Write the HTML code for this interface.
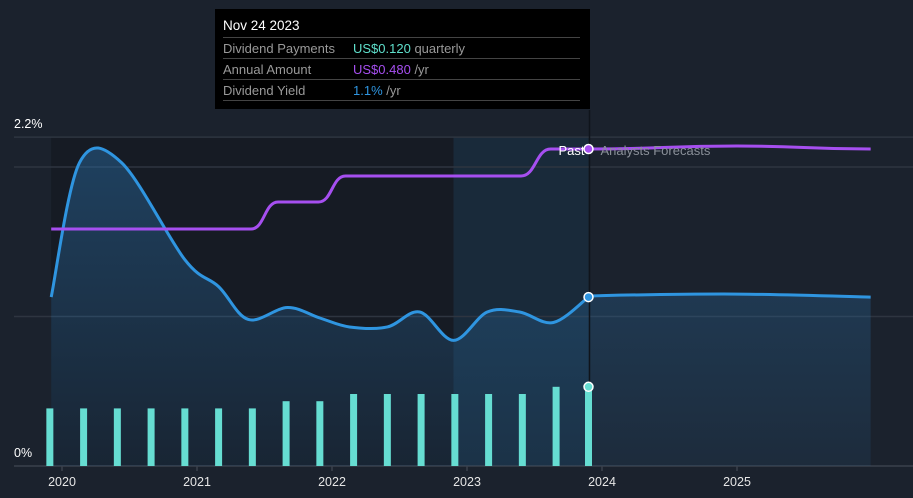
<!DOCTYPE html>
<html><head><meta charset="utf-8"><style>
body{margin:0;background:#1b222d;font-family:"Liberation Sans",sans-serif;}
#wrap{position:relative;width:913px;height:498px;overflow:hidden;background:#1b222d;}
.tip{position:absolute;left:215px;top:9px;width:375px;height:100px;background:#000;}
.tip div{position:absolute;left:8px;width:357px;font-size:13px;}
</style></head><body>
<div id="wrap">
<svg id="svg" width="913" height="498" style="position:absolute;left:0;top:0"></svg>
<div class="tip">
 <div style="top:9px;color:#fff;font-size:13.5px">Nov 24 2023</div>
 <div style="top:28px;border-top:1px solid #444;padding-top:3px;color:#999">Dividend Payments<span style="position:absolute;left:130px;color:#5fe0cc">US$0.120 <span style="color:#999">quarterly</span></span></div>
 <div style="top:49px;border-top:1px solid #444;padding-top:3px;color:#999">Annual Amount<span style="position:absolute;left:130px;color:#a64ff0">US$0.480 <span style="color:#999">/yr</span></span></div>
 <div style="top:70px;border-top:1px solid #444;padding-top:3px;color:#999;height:17px;border-bottom:1px solid #444">Dividend Yield<span style="position:absolute;left:130px;color:#2f95e0">1.1% <span style="color:#999">/yr</span></span></div>
</div>
</div>
<script>
const yearTicks=[2020,2021,2022,2023,2024,2025];
const yieldTicks=[0,2.2];
const yieldPast=[[2019.92,1.13],[2020.13,2.03],[2020.44,2.03],[2020.91,1.38],[2021.16,1.2],[2021.38,0.98],[2021.67,1.06],[2021.91,0.99],[2022.13,0.93],[2022.41,0.93],[2022.65,1.03],[2022.9,0.84],[2023.15,1.03],[2023.39,1.03],[2023.64,0.96],[2023.9,1.13]];
const yieldForecast=[[2023.9,1.13],[2024.0,1.14],[2025.0,1.15],[2025.99,1.13]];
const annualPast=[[2019.92,0.32],[2021.4,0.32],[2021.6,0.374],[2021.9,0.374],[2022.1,0.426],[2023.4,0.426],[2023.62,0.48],[2023.9,0.48]];
const annualForecast=[[2023.9,0.48],[2025.0,0.486],[2025.99,0.48]];
const payDates=[2019.91,2020.16,2020.41,2020.66,2020.91,2021.16,2021.41,2021.66,2021.91,2022.16,2022.41,2022.66,2022.91,2023.16,2023.41,2023.66,2023.9];
const payValues=[0.08,0.08,0.08,0.08,0.08,0.08,0.08,0.09,0.09,0.10,0.10,0.10,0.10,0.10,0.10,0.11,0.11];

const X=t=>62+(t-2020)*135;
const Y=v=>466-v*149.5;
const YA=v=>229-(v-0.32)*500;
const YB=v=>466-v*720;
const NS='http://www.w3.org/2000/svg';
const svg=document.getElementById('svg');
function mk(tag,attrs,name){const e=document.createElementNS(NS,tag);for(const k in attrs)e.setAttribute(k,attrs[k]);


svg.appendChild(e);return e;}
function path(pts,fy){let d='';pts.forEach((p,i)=>{const x=X(p[0]),y=fy(p[1]);if(!i)d+='M'+x+','+y;else{const px=X(pts[i-1][0]),py=fy(pts[i-1][1]);const mx=(px+x)/2;d+=' C'+mx+','+py+' '+mx+','+y+' '+x+','+y;}});return d;}
function smooth(pts,fy){const P=pts.map(p=>[X(p[0]),fy(p[1])]);let d='M'+P[0][0]+','+P[0][1];
for(let i=0;i<P.length-1;i++){const p0=P[Math.max(0,i-1)],p1=P[i],p2=P[i+1],p3=P[Math.min(P.length-1,i+2)];
const k=1/6;d+=' C'+(p1[0]+(p2[0]-p0[0])*k)+','+(p1[1]+(p2[1]-p0[1])*k)+' '+(p2[0]-(p3[0]-p1[0])*k)+','+(p2[1]-(p3[1]-p1[1])*k)+' '+p2[0]+','+p2[1];}return d;}
const past=X(2023.9);
const defs=mk('defs',{},'defs');
defs.innerHTML='<linearGradient id="ga" x1="0" y1="0" x2="0" y2="1"><stop offset="0" stop-color="#2a6fa8" stop-opacity="0.45"/><stop offset="1" stop-color="#2a6fa8" stop-opacity="0.12"/></linearGradient>';
mk('rect',{x:X(2019.92),y:137,width:past-X(2019.92),height:329,fill:'#161b24'},'past-region');
mk('rect',{x:X(2022.9),y:137,width:past-X(2022.9),height:329,fill:'#1b3044',opacity:0.7},'highlight-region');
[2.2,2.0,1.0].forEach(v=>mk('line',{x1:14,x2:913,y1:Y(v),y2:Y(v),stroke:'#2e3540','stroke-width':1.5},'gridline'));
mk('line',{x1:14,x2:913,y1:466,y2:466,stroke:'#3a414c','stroke-width':1.5},'x-axis');
const all=yieldPast.concat(yieldForecast.slice(1));
mk('path',{d:smooth(all,Y)+' L'+X(2025.99)+',466 L'+X(2019.92)+',466 Z',fill:'url(#ga)'},'yield-area');
mk('line',{x1:past+1,x2:past+1,y1:110,y2:466,stroke:'#0f141b','stroke-width':1.5},'today-line');
payDates.forEach((t,i)=>mk('rect',{x:X(t)-3.5,y:YB(payValues[i]),width:7,height:466-YB(payValues[i]),fill:'#66ddd2'},'payment-bar'));
mk('path',{d:smooth(yieldPast,Y),fill:'none',stroke:'#2f95e0','stroke-width':3},'yield-line-past');
mk('path',{d:smooth(yieldForecast,Y),fill:'none',stroke:'#2f95e0','stroke-width':3},'yield-line-forecast');
mk('path',{d:path(annualPast,YA),fill:'none',stroke:'#a64ff0','stroke-width':3},'annual-line-past');
mk('path',{d:path(annualForecast,YA),fill:'none',stroke:'#a64ff0','stroke-width':3},'annual-line-forecast');
mk('circle',{cx:past,cy:Y(1.13),r:4.5,fill:'#2f95e0',stroke:'#fff','stroke-width':1.5},'yield-dot');
mk('circle',{cx:past,cy:YA(0.48),r:4.5,fill:'#a64ff0',stroke:'#fff','stroke-width':1.5},'annual-dot');
mk('circle',{cx:past,cy:YB(0.11),r:4.5,fill:'#66ddd2',stroke:'#fff','stroke-width':1.5},'payment-dot');
let t=mk('text',{x:past-4,y:155,fill:'#fff','font-size':13,'text-anchor':'end'},'past-label');t.textContent='Past';
t=mk('text',{x:past+12,y:155,fill:'#8a9099','font-size':13},'forecast-label');t.textContent='Analysts Forecasts';
yieldTicks.forEach(v=>{const e=mk('text',{x:14,y:Y(v)-9,fill:'#fff','font-size':12.5},'y-tick-label');e.textContent=v+'%';});
yearTicks.forEach(y=>{mk('line',{x1:X(y),x2:X(y),y1:466,y2:471,stroke:'#3a414c','stroke-width':1.5},'x-tick');const e=mk('text',{x:X(y),y:486,fill:'#e6e6e6','font-size':12.5,'text-anchor':'middle'},'x-tick-label');e.textContent=y;});
</script>
</body></html>
